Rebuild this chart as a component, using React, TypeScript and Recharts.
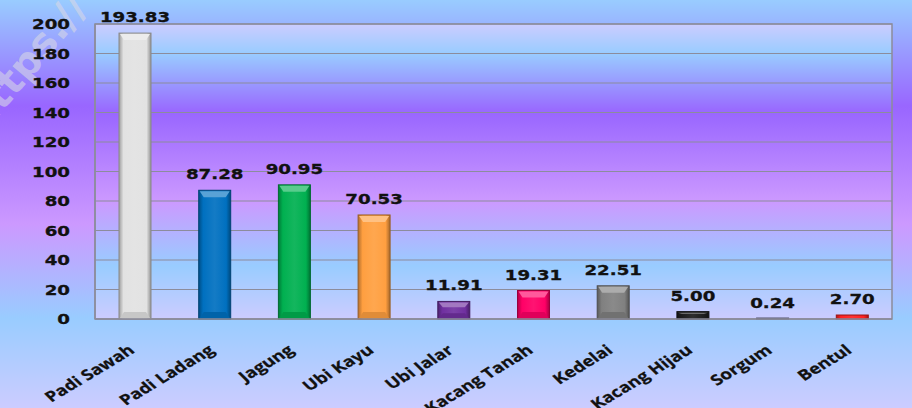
import React from 'react';
import { BarChart, Bar, XAxis, YAxis, CartesianGrid, LabelList, ReferenceArea } from 'recharts';

const categories = ['Padi Sawah', 'Padi Ladang', 'Jagung', 'Ubi Kayu', 'Ubi Jalar', 'Kacang Tanah', 'Kedelai', 'Kacang Hijau', 'Sorgum', 'Bentul'];
const values = [193.83, 87.28, 90.95, 70.53, 11.91, 19.31, 22.51, 5.0, 0.24, 2.7];
const barColors = ['#e2e2e2', '#0070c0', '#00b050', '#ff9f40', '#7030a0', '#ff0066', '#808080', '#1c1c1c', '#8a8ab0', '#ff2020'];
const yTicks = [0, 20, 40, 60, 80, 100, 120, 140, 160, 180, 200];

const data = categories.map((name, i) => ({ name, value: values[i] }));

function shade(hex: string, amt: number): string {
  const n = parseInt(hex.slice(1), 16);
  let r = (n >> 16) & 255, g = (n >> 8) & 255, b = n & 255;
  const t = amt < 0 ? 0 : 255;
  const p = Math.abs(amt);
  r = Math.round(r + (t - r) * p);
  g = Math.round(g + (t - g) * p);
  b = Math.round(b + (t - b) * p);
  return '#' + ((1 << 24) + (r << 16) + (g << 8) + b).toString(16).slice(1);
}

const FONT = '"DejaVu Sans", Verdana, sans-serif';
const CAT_FONT = '"Open Sans", "Noto Sans", sans-serif';

const BevelBar = (props: any) => {
  const { x, y, width, height, index } = props;
  if (height == null || width == null) return null;
  const c = barColors[index];
  const h = Math.max(height, 1);
  const top = y + height - h;
  const bev = Math.min(7, h / 3);
  const inset = Math.min(5, width / 5);
  return (
    <g>
      <rect x={x} y={top} width={width} height={h} fill={`url(#barGrad${index})`} stroke={shade(c, -0.4)} strokeWidth={1} />
      {h > 6 && (
        <polygon
          points={`${x + 1},${top + 1} ${x + width - 1},${top + 1} ${x + width - inset},${top + bev} ${x + inset},${top + bev}`}
          fill={shade(c, 0.35)}
        />
      )}
      {h > 12 && (
        <polygon
          points={`${x + 1},${top + h - 1} ${x + width - 1},${top + h - 1} ${x + width - inset},${top + h - bev} ${x + inset},${top + h - bev}`}
          fill={shade(c, -0.12)}
        />
      )}
    </g>
  );
};

const ValueLabel = (props: any) => {
  const { x, y, width, value } = props;
  const cx = x + width / 2;
  return (
    <text
      transform={`translate(${cx},${y - 11}) scale(1.3,1)`}
      textAnchor="middle"
      fontFamily={FONT}
      fontWeight="bold"
      fontSize={14}
      fill="#111"
      stroke="#111"
      strokeWidth={0.3}
    >
      {Number(value).toFixed(2)}
    </text>
  );
};

const YTick = (props: any) => {
  const { x, y, payload } = props;
  return (
    <text
      transform={`translate(${x},${y}) scale(1.3,1)`}
      textAnchor="end"
      dy="0.36em"
      fontFamily={FONT}
      fontWeight="bold"
      fontSize={14}
      fill="#111"
      stroke="#111"
      strokeWidth={0.3}
    >
      {payload.value}
    </text>
  );
};

const XTick = (props: any) => {
  const { x, y, payload } = props;
  return (
    <text
      transform={`translate(${x + 1},${y + 33}) scale(1.3,1) rotate(-38)`}
      textAnchor="end"
      fontFamily={CAT_FONT}
      fontWeight="bold"
      fontSize={14.5}
      fill="#111"
      stroke="#111"
      strokeWidth={0.25}
    >
      {payload.value}
    </text>
  );
};

export default function App() {
  return (
    <div
      style={{
        position: 'absolute',
        left: 0,
        top: 0,
        width: 912,
        height: 408,
        overflow: 'hidden',
        background: 'linear-gradient(to bottom, #99ccff 0%, #9966ff 26%, #cc99ff 55%, #99ccff 78%, #ccccff 100%)',
      }}
    >
      <svg width={912} height={408} style={{ position: 'absolute', left: 0, top: 0 }}>
        <text
          transform="translate(-16,134) rotate(-50)"
          fontFamily={FONT}
          fontWeight="bold"
          fontSize={40}
          fill="rgba(215,215,230,0.6)"
        >
          https://
        </text>
      </svg>
      <div style={{ position: 'absolute', left: 0, top: 0 }}>
        <BarChart width={912} height={408} data={data} margin={{ top: 24, right: 20, bottom: 0, left: 0 }} barSize={32}>
          <defs>
            <linearGradient id="plotGrad" x1="0" y1="0" x2="0" y2="1">
              <stop offset="0%" stopColor="#ccccff" />
              <stop offset="10%" stopColor="#99ccff" />
              <stop offset="30%" stopColor="#9966ff" />
              <stop offset="60%" stopColor="#cc99ff" />
              <stop offset="82%" stopColor="#99ccff" />
              <stop offset="100%" stopColor="#ccccff" />
            </linearGradient>
            {barColors.map((c, i) => (
              <linearGradient key={i} id={`barGrad${i}`} x1="0" y1="0" x2="1" y2="0">
                <stop offset="0%" stopColor={shade(c, -0.3)} />
                <stop offset="14%" stopColor={c} />
                <stop offset="50%" stopColor={shade(c, 0.08)} />
                <stop offset="86%" stopColor={c} />
                <stop offset="100%" stopColor={shade(c, -0.35)} />
              </linearGradient>
            ))}
          </defs>
          <CartesianGrid vertical={false} stroke="#8c8c9c" strokeWidth={1.2} fill="url(#plotGrad)" fillOpacity={1} />
          <XAxis
            dataKey="name"
            height={89}
            interval={0}
            tickLine={false}
            tickSize={0}
            tickMargin={0}
            axisLine={{ stroke: '#8c8c9c', strokeWidth: 1.5 }}
            tick={<XTick />}
          />
          <YAxis
            width={95}
            domain={[0, 200]}
            ticks={yTicks}
            tickLine={false}
            tickSize={0}
            tickMargin={25}
            axisLine={{ stroke: '#8c8c9c', strokeWidth: 1.5 }}
            tick={<YTick />}
            interval={0}
          />
          <ReferenceArea y1={0} y2={200} fill="none" stroke="#8c8c9c" strokeWidth={1.5} />
          <Bar dataKey="value" isAnimationActive={false} shape={<BevelBar />}>
            <LabelList dataKey="value" content={<ValueLabel />} />
          </Bar>
        </BarChart>
      </div>
    </div>
  );
}
